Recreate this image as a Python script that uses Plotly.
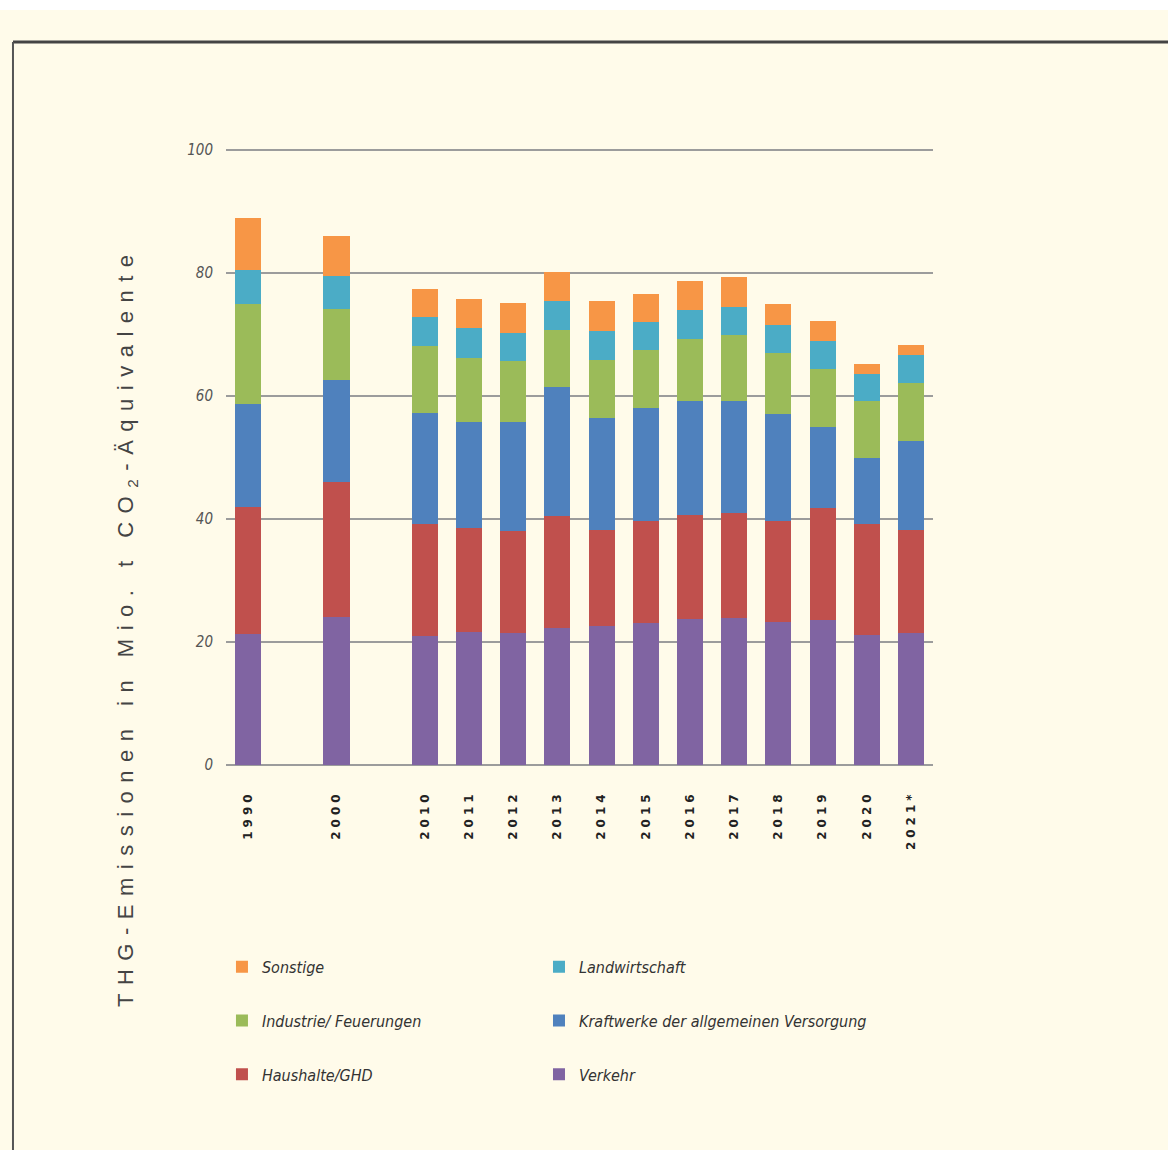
import plotly.graph_objects as go

# ---------------- data ----------------
years = ["1990", "2000", "2010", "2011", "2012", "2013", "2014", "2015",
         "2016", "2017", "2018", "2019", "2020", "2021*"]
# axis slots (empty slots keep the gaps between 1990, 2000 and 2010)
axis_slots = ["1990", " ", "2000", "  ", "2010", "2011", "2012", "2013", "2014",
              "2015", "2016", "2017", "2018", "2019", "2020", "2021*"]

verkehr        = [21.3, 24.1, 21.0, 21.6, 21.4, 22.2, 22.6, 23.1, 23.7, 23.9, 23.2, 23.5, 21.1, 21.4]
haushalte      = [20.7, 21.9, 18.1, 17.0, 16.7, 18.2, 15.6, 16.5, 17.0, 17.1, 16.4, 18.3, 18.1, 16.8]
kraftwerke     = [16.7, 16.6, 18.1, 17.1, 17.6, 21.0, 18.2, 18.5, 18.5, 18.2, 17.4, 13.1, 10.7, 14.5]
industrie      = [16.2, 11.5, 10.9, 10.5,  9.9,  9.3,  9.4,  9.3, 10.1, 10.7, 10.0,  9.4,  9.3,  9.4]
landwirtschaft = [ 5.5,  5.4,  4.7,  4.9,  4.6,  4.7,  4.7,  4.6,  4.6,  4.6,  4.5,  4.6,  4.3,  4.5]
sonstige       = [ 8.6,  6.5,  4.6,  4.6,  4.9,  4.8,  4.9,  4.6,  4.7,  4.8,  3.5,  3.3,  1.7,  1.6]

series_names = ["Verkehr", "Haushalte/GHD", "Kraftwerke der allgemeinen Versorgung",
                "Industrie/ Feuerungen", "Landwirtschaft", "Sonstige"]
series_values = [verkehr, haushalte, kraftwerke, industrie, landwirtschaft, sonstige]
series_colors = ["#8064A2", "#C0504D", "#4F81BD", "#9BBB59", "#4BACC6", "#F79646"]
series_legend = ["legend2", "legend", "legend2", "legend", "legend2", "legend"]
series_rank = [3, 3, 2, 2, 1, 1]

y_ticks = [0, 20, 40, 60, 80, 100]

BG = "#FFFBEA"
NARROW = "Liberation Sans Narrow, DejaVu Sans Condensed, Liberation Sans, sans-serif"

fig = go.Figure()
for name, vals, col, leg, rk in zip(series_names, series_values, series_colors,
                                     series_legend, series_rank):
    fig.add_trace(go.Bar(
        x=years, y=vals, name=name,
        marker=dict(color=col, line=dict(width=0)),
        legend=leg, legendgroup=name, legendrank=rk,
    ))

tick_text = ['<span style="letter-spacing:4px">%s</span>' % y for y in years]

fig.update_layout(
    width=1168, height=1150,
    margin=dict(l=226, r=235, t=148, b=385),
    paper_bgcolor=BG, plot_bgcolor=BG,
    barmode="stack", bargap=0.41,
    showlegend=True,
    xaxis=dict(
        type="category", categoryorder="array", categoryarray=axis_slots,
        range=[-0.5, 15.5],
        tickmode="array", tickvals=years, ticktext=tick_text,
        tickangle=-90, ticks="", showgrid=False, showline=False,
        ticklabelstandoff=22,
        tickfont=dict(family="DejaVu Sans, Liberation Sans, sans-serif",
                      size=12, color="#222222", weight="bold"),
    ),
    yaxis=dict(
        range=[0, 100.3], tickvals=y_ticks, ticks="",
        showgrid=True, gridcolor="#9C9C9C", gridwidth=2,
        zeroline=True, zerolinecolor="#9C9C9C", zerolinewidth=2,
        showline=False, ticklabelstandoff=12,
        tickfont=dict(family=NARROW, size=15, color="#555555", style="italic"),
    ),
    legend=dict(
        x=-0.0057, y=-0.2995, xanchor="left", yanchor="top",
        orientation="v", traceorder="grouped", tracegroupgap=30,
        bgcolor="rgba(0,0,0,0)",
        font=dict(family=NARROW, size=16, color="#333333", style="italic"),
    ),
    legend2=dict(
        x=0.4427, y=-0.2995, xanchor="left", yanchor="top",
        orientation="v", traceorder="grouped", tracegroupgap=30,
        bgcolor="rgba(0,0,0,0)",
        font=dict(family=NARROW, size=16, color="#333333", style="italic"),
    ),
    annotations=[dict(
        text='<span style="letter-spacing:8.5px">THG-Emissionen in Mio. t CO<sub>2</sub>-Äquivalente</span>',
        xref="paper", yref="paper", x=-0.14, y=0.2237,
        xanchor="center", yanchor="middle", textangle=-90, showarrow=False,
        font=dict(family="Liberation Sans, Arial, sans-serif", size=22, color="#444444"),
    )],
    shapes=[
        # white strip at the very top
        dict(type="rect", xref="paper", yref="paper", x0=-0.33, x1=1.34,
             y0=1.2237, y1=1.26, fillcolor="#FFFFFF", line=dict(width=0), layer="below"),
        # frame: top line and left line
        dict(type="line", xref="paper", yref="paper", x0=-0.3013, x1=1.34,
             y0=1.1718, y1=1.1718, line=dict(color="#444444", width=3)),
        dict(type="line", xref="paper", yref="paper", x0=-0.3013, x1=-0.3013,
             y0=1.1718, y1=-0.64, line=dict(color="#555555", width=2)),
    ],
)

fig.write_html(
    "out.html",
    config={"displayModeBar": False},
    post_script="document.body.style.margin='0';document.body.style.background='%s';" % BG,
)
